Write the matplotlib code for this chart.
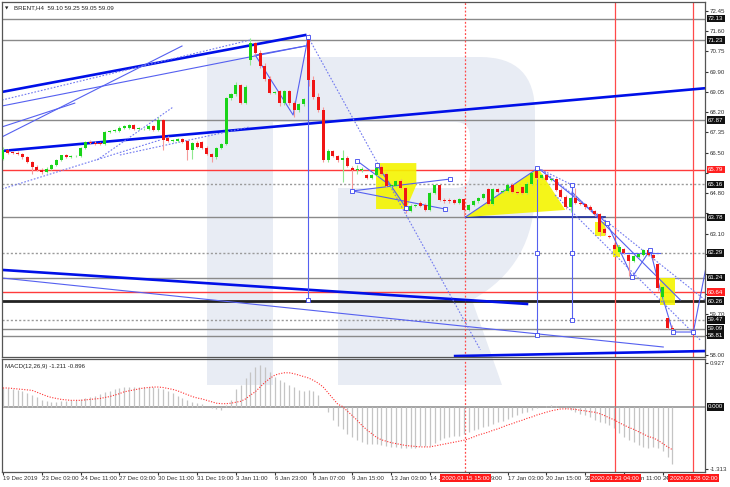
import numpy as np
import matplotlib.pyplot as plt
import matplotlib.transforms as mtransforms
from matplotlib.patches import PathPatch, Polygon
from matplotlib.path import Path

W, H = 730, 487
plt.rcParams['font.family'] = ['Liberation Sans', 'DejaVu Sans']
FS = 4.4

# ---- BRENT H4 candles (index 0 = 19 Dec 2019) ----
opens = [66.25, 66.60, 66.50, 66.48, 66.45, 66.30, 66.10, 65.90, 65.78, 65.70,
         65.82, 65.98, 66.20, 66.38, 66.32, 66.34, 66.36, 66.70, 66.95, 66.92,
         66.90, 66.86, 67.37, 67.40, 67.40, 67.55, 67.55, 67.65, 67.50, 67.48,
         67.48, 67.62, 67.45, 67.87, 67.10, 67.00, 67.00, 67.06, 66.98, 66.61,
         66.90, 66.95, 66.70, 66.45, 66.30, 66.70, 66.85, 68.80, 68.95, 69.35,
         68.60, 70.39, 71.10, 70.70, 70.15, 69.60, 69.02, 69.10, 68.58, 69.10,
         68.58, 68.30, 68.55, 71.40, 69.55, 68.85, 68.30, 66.19, 66.55, 66.35,
         66.20, 66.28, 65.85, 65.75, 65.75, 65.55, 65.45, 65.58, 65.90, 65.62,
         65.10, 65.10, 65.30, 65.00, 64.05, 64.25, 64.40, 64.30, 64.10, 64.80,
         65.15, 64.50, 64.52, 64.50, 64.40, 64.55, 64.10, 64.30, 64.45, 64.60,
         64.95, 64.35, 64.95, 64.85, 64.90, 65.15, 64.85, 65.05, 64.80, 65.20,
         65.75, 65.45, 65.55, 65.35, 65.40, 64.93, 64.65, 64.20, 64.60, 64.40,
         64.35, 64.22, 64.05, 63.90, 63.30, 63.00, 62.62, 62.32, 62.45, 62.20,
         61.95, 62.10, 62.20, 62.40, 62.20, 61.80, 60.45, 59.55, 59.10]
highs = [66.72, 66.66, 66.56, 66.55, 66.50, 66.35, 66.15, 65.98, 65.85, 65.88,
         66.02, 66.25, 66.42, 66.44, 66.40, 66.42, 66.75, 67.00, 67.02, 66.98,
         66.96, 67.42, 67.45, 67.50, 67.60, 67.68, 67.70, 67.70, 67.56, 67.53,
         67.66, 67.68, 68.00, 67.92, 67.18, 67.06, 67.12, 67.10, 67.02, 66.95,
         66.98, 67.00, 66.76, 66.50, 66.75, 66.90, 68.85, 69.00, 69.45, 69.40,
         69.35, 71.30, 71.15, 70.80, 70.25, 69.70, 69.10, 69.15, 69.15, 69.15,
         68.65, 68.60, 68.80, 71.50, 69.70, 69.00, 68.40, 66.65, 66.62, 66.42,
         66.61, 66.35, 65.95, 66.00, 65.90, 65.60, 65.62, 65.90, 65.98, 65.70,
         65.18, 65.35, 65.40, 65.05, 64.32, 64.32, 64.45, 64.38, 64.85, 65.20,
         65.20, 64.58, 64.58, 64.55, 64.60, 64.60, 64.35, 64.50, 64.65, 64.82,
         65.00, 65.00, 65.00, 64.95, 65.20, 65.22, 64.90, 65.10, 65.25, 65.70,
         65.85, 65.60, 65.60, 65.45, 65.45, 65.00, 64.70, 64.65, 65.00, 64.45,
         64.40, 64.28, 64.10, 63.95, 63.38, 63.05, 62.70, 62.60, 62.50, 62.25,
         62.20, 62.30, 62.45, 62.45, 62.25, 61.85, 60.90, 59.60, 59.25]
lows = [66.18, 66.45, 66.44, 66.40, 66.25, 66.05, 65.60, 65.72, 65.62, 65.64,
        65.76, 65.92, 66.15, 66.28, 66.28, 66.30, 66.32, 66.65, 66.86, 66.84,
        66.80, 66.82, 67.32, 67.36, 67.36, 67.50, 67.50, 67.45, 67.44, 67.44,
        67.44, 67.40, 67.40, 66.61, 66.95, 66.95, 66.96, 66.90, 66.20, 66.25,
        66.70, 66.65, 66.40, 66.10, 66.25, 66.65, 66.80, 68.70, 68.90, 68.55,
        68.55, 70.20, 70.60, 70.05, 69.50, 68.95, 68.95, 68.45, 68.50, 68.50,
        68.00, 68.20, 68.45, 69.30, 68.75, 68.20, 66.10, 66.10, 66.30, 66.12,
        65.25, 65.90, 64.90, 65.60, 65.70, 65.40, 65.40, 65.52, 65.55, 65.05,
        65.02, 65.05, 64.95, 63.95, 64.00, 64.20, 64.20, 64.05, 64.05, 64.75,
        64.45, 64.40, 64.40, 64.35, 64.35, 63.78, 64.05, 64.25, 64.40, 64.55,
        64.30, 64.30, 64.80, 64.80, 64.85, 64.80, 64.75, 64.75, 64.75, 65.15,
        65.40, 65.40, 65.30, 65.30, 64.88, 64.60, 64.15, 64.00, 64.35, 64.28,
        64.15, 64.05, 63.85, 63.00, 63.05, 62.90, 62.40, 62.28, 62.25, 61.30,
        61.90, 62.05, 62.15, 62.15, 62.00, 60.70, 60.30, 59.10, 59.05]
closes = [66.60, 66.50, 66.48, 66.45, 66.30, 66.10, 65.90, 65.78, 65.70, 65.82,
          65.98, 66.20, 66.38, 66.32, 66.34, 66.36, 66.70, 66.95, 66.90, 66.88,
          66.86, 67.37, 67.40, 67.45, 67.55, 67.62, 67.65, 67.50, 67.50, 67.48,
          67.62, 67.45, 67.87, 67.03, 67.00, 67.00, 67.06, 66.95, 66.61, 66.90,
          66.75, 66.70, 66.45, 66.30, 66.70, 66.85, 68.80, 68.95, 69.35, 68.60,
          69.25, 71.10, 70.70, 70.15, 69.60, 69.02, 69.05, 68.58, 69.10, 68.58,
          68.30, 68.55, 68.75, 69.55, 68.85, 68.30, 66.19, 66.55, 66.35, 66.20,
          66.28, 65.95, 65.75, 65.80, 65.82, 65.45, 65.58, 65.85, 65.62, 65.10,
          65.12, 65.30, 65.00, 64.05, 64.25, 64.27, 64.25, 64.10, 64.80, 65.15,
          64.50, 64.45, 64.45, 64.40, 64.55, 64.10, 64.30, 64.45, 64.60, 64.78,
          64.35, 64.95, 64.85, 64.90, 65.15, 64.85, 64.80, 64.80, 65.20, 65.65,
          65.45, 65.55, 65.35, 65.40, 64.93, 64.65, 64.20, 64.60, 64.40, 64.32,
          64.20, 64.10, 63.90, 63.15, 63.12, 62.95, 62.45, 62.55, 62.30, 61.95,
          62.15, 62.25, 62.40, 62.20, 62.05, 60.80, 60.85, 59.13, 59.09]

# ---- MACD(12,26,9) ----
macd_hist = [0.39, 0.39, 0.38, 0.36, 0.34, 0.29, 0.25, 0.20, 0.15, 0.12,
             0.11, 0.11, 0.12, 0.12, 0.14, 0.14, 0.17, 0.19, 0.21, 0.24,
             0.28, 0.31, 0.34, 0.37, 0.40, 0.42, 0.42, 0.42, 0.42, 0.42,
             0.42, 0.42, 0.41, 0.38, 0.34, 0.29, 0.24, 0.19, 0.14, 0.11,
             0.08, 0.06, 0.01, -0.02, -0.04, -0.06, 0.04, 0.14, 0.38, 0.46,
             0.60, 0.74, 0.84, 0.88, 0.84, 0.74, 0.63, 0.56, 0.53, 0.47,
             0.42, 0.36, 0.33, 0.36, 0.34, 0.25, 0.00, -0.11, -0.27, -0.39,
             -0.46, -0.56, -0.64, -0.69, -0.74, -0.77, -0.77, -0.78, -0.81, -0.83,
             -0.84, -0.84, -0.86, -0.86, -0.86, -0.86, -0.83, -0.83, -0.83, -0.75,
             -0.70, -0.66, -0.63, -0.62, -0.60, -0.57, -0.53, -0.49, -0.46, -0.42,
             -0.39, -0.36, -0.32, -0.29, -0.25, -0.22, -0.17, -0.12, -0.10, -0.06,
             -0.03, 0.00, 0.02, 0.04, 0.03, 0.00, -0.02, -0.07, -0.11, -0.14,
             -0.17, -0.21, -0.27, -0.31, -0.34, -0.38, -0.44, -0.54, -0.64, -0.69,
             -0.74, -0.81, -0.85, -0.86, -0.84, -0.86, -0.93, -1.06, -1.21]
macd_signal = [0.40, 0.40, 0.39, 0.38, 0.37, 0.36, 0.35, 0.31, 0.27, 0.23,
               0.20, 0.18, 0.16, 0.15, 0.14, 0.14, 0.14, 0.15, 0.16, 0.17,
               0.18, 0.20, 0.22, 0.25, 0.28, 0.32, 0.34, 0.36, 0.38, 0.40,
               0.41, 0.42, 0.42, 0.41, 0.39, 0.37, 0.34, 0.30, 0.26, 0.22,
               0.19, 0.17, 0.14, 0.11, 0.08, 0.07, 0.07, 0.08, 0.10, 0.12,
               0.17, 0.25, 0.32, 0.42, 0.52, 0.60, 0.67, 0.70, 0.72, 0.72,
               0.70, 0.67, 0.64, 0.61, 0.56, 0.50, 0.42, 0.30, 0.18, 0.06,
               0.01, -0.09, -0.18, -0.28, -0.39, -0.48, -0.56, -0.64, -0.69, -0.72,
               -0.75, -0.77, -0.79, -0.81, -0.82, -0.83, -0.84, -0.84, -0.84, -0.82,
               -0.80, -0.78, -0.76, -0.74, -0.72, -0.70, -0.67, -0.63, -0.59, -0.56,
               -0.53, -0.49, -0.46, -0.42, -0.38, -0.35, -0.31, -0.28, -0.24, -0.21,
               -0.17, -0.14, -0.11, -0.08, -0.06, -0.04, -0.04, -0.04, -0.05, -0.07,
               -0.08, -0.10, -0.11, -0.14, -0.18, -0.23, -0.27, -0.33, -0.38, -0.43,
               -0.47, -0.52, -0.57, -0.62, -0.65, -0.70, -0.77, -0.84, -0.90]

price_ticks = [72.45, 71.60, 70.75, 69.90, 69.05, 68.20, 67.35, 66.50, 65.65,
               64.80, 63.95, 63.10, 62.25, 61.40, 60.55, 59.70, 58.85, 58.00]
x_tick_pos = list(range(0, 137, 8))
x_tick_labels = ["19 Dec 2019", "23 Dec 03:00", "24 Dec 11:00", "27 Dec 03:00",
                 "30 Dec 11:00", "31 Dec 19:00", "3 Jan 11:00", "6 Jan 23:00",
                 "8 Jan 07:00", "9 Jan 15:00", "13 Jan 03:00", "14 Jan 11:00",
                 "15 Jan 19:00", "17 Jan 03:00", "20 Jan 15:00", "22 Jan 03:00",
                 "23 Jan 11:00", "24 Jan 19:00"]
# parts of the date labels left visible next to the red time boxes
visible_parts = {"14 Jan 11:00": "14 J", "15 Jan 19:00": "", "22 Jan 03:00": "22",
                 "23 Jan 11:00": "", "24 Jan 19:00": "24"}
after_box_parts = [(100.6, "9:00"), (131.6, "n 11:00")]

# horizontal levels: price, kind
levels = [72.13, 71.23, 67.87, 65.79, 65.16, 63.78, 62.29, 61.24, 60.64, 60.26, 59.47, 59.09, 58.81]
level_kind = ['gray', 'gray', 'gray', 'red', 'dot', 'gray', 'dot', 'gray', 'red', 'black', 'dot', 'gray', 'gray']

# vertical time markers
vline_pos = [95.3, 126.2, 142.3]
vline_text = ["2020.01.15 15:00", "2020.01.23 04:00", "2020.01.28 02:00"]
vline_dotted = [True, False, False]

# analysis drawings (candle index, price)
thick_lines = [[(-0.2, 69.05), (62.3, 71.44)],
               [(-0.2, 66.57), (149.9, 69.30)],
               [(-0.2, 61.57), (108.0, 60.14)],
               [(93.2, 57.95), (144.7, 58.16)]]
thin_lines = [[(-0.2, 68.46), (62.3, 70.98)],
              [(-0.2, 67.16), (36.9, 70.98)],
              [(-0.2, 67.58), (14.8, 68.58)],
              [(52.0, 70.60), (59.8, 68.08), (62.9, 71.36)],
              [(52.0, 70.60), (62.3, 70.98)],
              [(62.9, 71.36), (62.9, 60.31)],
              [(-0.2, 61.23), (136.1, 58.33)],
              [(73.0, 66.15), (80.2, 65.06)],
              [(72.0, 64.89), (92.2, 65.39)],
              [(72.0, 64.89), (91.1, 64.13)],
              [(77.1, 65.98), (83.1, 64.17)],
              [(110.1, 65.87), (110.1, 58.84)],
              [(117.3, 65.14), (117.3, 59.47)],
              [(95.3, 63.79), (110.3, 65.85), (124.5, 63.54), (129.7, 61.27), (133.4, 62.41),
               (135.5, 60.73), (138.1, 58.96), (142.3, 58.96), (145.0, 61.78)],
              [(117.3, 64.84), (139.6, 60.31)],
              [(127.6, 62.28), (135.5, 62.28)]]
dotted_lines = [[(-0.2, 68.71), (50.9, 71.23)],
                [(-0.2, 64.97), (32.4, 67.03)],
                [(19.4, 66.19), (35.1, 68.42)],
                [(24.1, 66.40), (50.9, 67.58)],
                [(62.9, 71.36), (98.4, 58.21)],
                [(111.1, 65.77), (144.7, 60.31)],
                [(113.8, 64.72), (143.7, 58.63)],
                [(110.3, 65.85), (117.3, 65.14)]]
square_pts = [(62.9, 71.36), (62.9, 60.31), (73.0, 66.15), (72.0, 64.89), (92.2, 65.39),
              (91.1, 64.13), (83.1, 64.17), (77.1, 65.98), (110.1, 65.87), (110.1, 62.29),
              (110.1, 58.84), (117.3, 65.14), (117.3, 62.29), (117.3, 59.47), (124.5, 63.54),
              (129.7, 61.27), (133.4, 62.41), (138.1, 58.96), (142.3, 58.96)]
yellow_shapes = [[(76.9, 66.06), (85.2, 66.06), (85.2, 65.14), (83.1, 64.13), (76.9, 64.13)],
                 [(95.3, 63.79), (110.3, 65.85), (115.9, 64.09)],
                 [(122.1, 63.58), (124.1, 63.58), (124.1, 63.00), (122.1, 63.00)],
                 [(125.8, 62.62), (127.2, 62.62), (127.2, 62.11), (125.8, 62.11)],
                 [(135.5, 61.23), (138.6, 61.23), (138.6, 60.10), (135.5, 60.10)]]

fig = plt.figure(figsize=(7.3, 4.87), dpi=100)

# watermark logo behind the panels (pixel coordinates)
bg = fig.add_axes([0, 0, 1, 1], zorder=-5)
bg.set_xlim(0, W)
bg.set_ylim(H, 0)
bg.axis('off')
M, L, C, X = Path.MOVETO, Path.LINETO, Path.CURVE3, Path.CLOSEPOLY
verts = [(207, 385), (207, 57), (480, 57), (535, 57), (535, 112), (535, 190), (535, 265),
         (472, 300), (502, 385), (338, 385), (338, 188), (455, 188), (470, 188), (470, 173),
         (470, 137), (470, 122), (455, 122), (273, 122), (273, 385), (207, 385)]
codes = [M, L, L, C, C, L, C, C, L, L, L, L, C, C, L, C, C, L, L, X]
bg.add_patch(PathPatch(Path(verts, codes), fc='#e8ecf4', ec='none'))

ax = fig.add_axes([2 / W, 1 - 357 / H, 703 / W, 355 / H])
ax2 = fig.add_axes([2 / W, 1 - 472 / H, 703 / W, 113 / H])
for a in (ax, ax2):
    a.set_facecolor('none')
    a.set_xlim(-0.2, 144.7)
    for s in a.spines.values():
        s.set_color('#555555')
        s.set_linewidth(0.9)
ax.set_ylim(57.91, 72.83)
ax2.set_ylim(-1.368, 1.01)

# levels
for p, k in zip(levels, level_kind):
    if k == 'gray':
        ax.axhline(p, color='#8a8a8a', lw=1.0, zorder=1)
    elif k == 'dot':
        ax.axhline(p, color='#9a9a9a', lw=1.0, ls=(0, (1.5, 1.5)), zorder=1)
    elif k == 'red':
        ax.axhline(p, color='#ff3b3b', lw=1.0, zorder=1)
    else:
        ax.axhline(p, color='#222222', lw=2.0, zorder=1)
ax.plot([95.3, 124.1], [63.78, 63.78], color='#1a2a9a', lw=1.2, zorder=2)

for shape in yellow_shapes:
    ax.add_patch(Polygon(shape, closed=True, fc='#f4f400', ec='none', alpha=0.9, zorder=2))

# vertical time markers
for xp, dot in zip(vline_pos, vline_dotted):
    for a in (ax, ax2):
        a.axvline(xp, color='#ff4a4a', lw=0.9, ls=(0, (1.5, 1.5)) if dot else '-', zorder=1)

for seg in thick_lines:
    xs, ys = zip(*seg)
    ax.plot(xs, ys, color='#0010e8', lw=1.9, zorder=2.5)
for seg in thin_lines:
    xs, ys = zip(*seg)
    ax.plot(xs, ys, color='#5560f0', lw=0.8, zorder=2.5)
for seg in dotted_lines:
    xs, ys = zip(*seg)
    ax.plot(xs, ys, color='#7078f0', lw=0.8, ls=(0, (1.5, 1.5)), zorder=2.5)

# candles
cx = np.arange(len(closes))
o, hi, lo, c = map(np.array, (opens, highs, lows, closes))
up = c >= o
ax.vlines(cx, lo, hi, colors=np.where(up, '#8fe88f', '#f59a9a'), lw=0.8, zorder=3)
ax.bar(cx, np.maximum(np.abs(c - o), 0.03), bottom=np.minimum(o, c), width=0.62,
       color=np.where(up, '#19d419', '#f01515'), lw=0, zorder=4)

sx, sy = zip(*square_pts)
ax.plot(sx, sy, 's', ms=2.6, mfc='white', mec='#3a44ee', mew=0.6, zorder=6)

# price axis (ticks hidden behind level boxes get no label)
ax.yaxis.tick_right()
ax.set_yticks(price_ticks)
ax.set_yticklabels(["" if min(abs(t - p) for p in levels) < 0.2 else f"{t:.2f}" for t in price_ticks])
ax.tick_params(axis='y', length=2, pad=1.5, labelsize=FS, colors='#333333')
ax.set_xticks([])

tr = mtransforms.blended_transform_factory(ax.transAxes, ax.transData)
for p, k in zip(levels, level_kind):
    fc = '#ff2020' if k == 'red' else '#111111'
    ax.text(1.0 + 3 / 703, p, f"{p:.2f}", transform=tr, ha='left', va='center', fontsize=FS,
            color='white', clip_on=False, zorder=10,
            bbox=dict(boxstyle='square,pad=0.2', fc=fc, ec='none'))

ax.text(3 / 703, 1 - 6 / 355, "\u25bc", transform=ax.transAxes, fontsize=3.2, va='center',
        ha='left', color='#222222', family='DejaVu Sans')
ax.text(12 / 703, 1 - 6 / 355, "BRENT,H4  59.10 59.25 59.05 59.09", transform=ax.transAxes,
        fontsize=FS, va='center', ha='left', color='#222222')

# MACD panel
ax2.vlines(cx, 0, macd_hist, colors='#c4c4c4', lw=0.9, zorder=2)
ax2.plot(cx, macd_signal, color='#ff3030', lw=0.8, ls=(0, (1, 1.4)), zorder=3)
ax2.axhline(0, color='#8a8a8a', lw=1.1, zorder=1)
ax2.text(3 / 703, 1 - 5 / 113, "MACD(12,26,9) -1.211 -0.896", transform=ax2.transAxes,
         fontsize=FS, va='top', ha='left', color='#222222')
ax2.yaxis.tick_right()
ax2.set_yticks([0.927, -1.313])
ax2.set_yticklabels(["0.927", "-1.313"])
ax2.tick_params(axis='y', length=2, pad=1.5, labelsize=FS, colors='#333333')
tr2 = mtransforms.blended_transform_factory(ax2.transAxes, ax2.transData)
ax2.text(1.0 + 3 / 703, 0, "0.000", transform=tr2, ha='left', va='center', fontsize=FS,
         color='white', clip_on=False, zorder=10,
         bbox=dict(boxstyle='square,pad=0.2', fc='#111111', ec='none'))

ax2.set_xticks(x_tick_pos)
ax2.set_xticklabels([visible_parts.get(t, t) for t in x_tick_labels], ha='left')
ax2.tick_params(axis='x', length=2, pad=1.2, labelsize=FS, colors='#333333')
trx = mtransforms.blended_transform_factory(ax2.transData, ax2.transAxes)
for xp, t in after_box_parts:
    ax2.text(xp, -6 / 113, t, transform=trx, ha='left', va='center', fontsize=FS,
             color='#333333', clip_on=False)
for xp, t in zip(vline_pos, vline_text):
    ax2.text(xp, -6 / 113, t, transform=trx, ha='center', va='center', fontsize=FS,
             color='white', clip_on=False, zorder=10,
             bbox=dict(boxstyle='square,pad=0.3', fc='#ff1a1a', ec='none'))

fig.savefig('out.png', dpi=100)
